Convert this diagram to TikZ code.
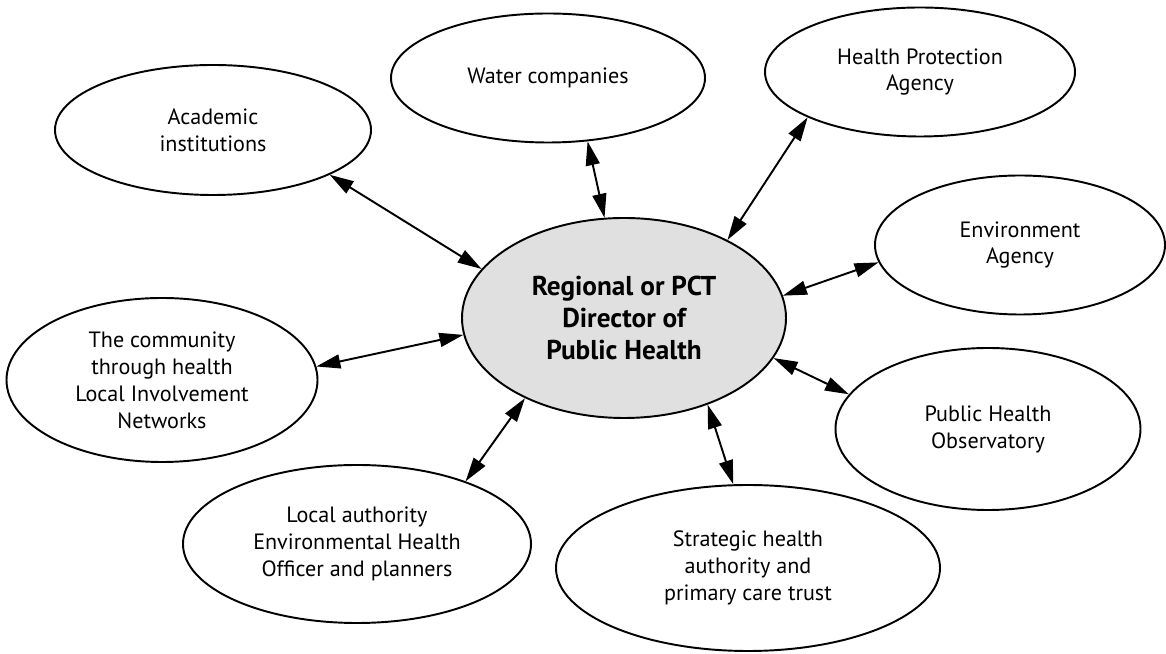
\documentclass[tikz,border=0pt]{standalone}
\usepackage{fontspec}
\setmainfont{PT Sans}
\usetikzlibrary{shapes.geometric,arrows.meta}

\begin{document}
\begin{tikzpicture}[line width=1.1pt]
			\tikzset{ente/.style={ellipse, draw, inner sep=0pt, align=center, font=\fontsize{12.6}{15.3}\selectfont},
				centrale/.style={ente, fill=black!12, font=\fontsize{15.5}{18.4}\selectfont\bfseries},
				freccia/.style={{Triangle[length=0.48cm,width=0.28cm]}-{Triangle[length=0.48cm,width=0.28cm]}}}
			\useasboundingbox (0,0) rectangle (23.32,13.08);
			
			% Nodo centrale (ombreggiato)
			\node[centrale, minimum width=6.48cm, minimum height=4cm] (DPH) at (12.48,6.72) {Regional or PCT\\Director of\\Public Health};
			
			% Nodi periferici
			\node[ente, minimum width=6.32cm, minimum height=2.60cm] (AI) at (4.26,10.48) {Academic\\institutions};
			\node[ente, minimum width=6.28cm, minimum height=2.58cm] (WC) at (10.96,11.52) {Water companies};
			\node[ente, minimum width=6.20cm, minimum height=2.58cm] (HPA) at (18.40,11.64) {Health Protection\\Agency};
			\node[ente, minimum width=5.80cm, minimum height=2.78cm] (EA) at (20.40,8.18) {Environment\\Agency};
			\node[ente, minimum width=6.10cm, minimum height=3.24cm] (PHO) at (19.76,4.50) {Public Health\\Observatory};
			\node[ente, minimum width=7.68cm, minimum height=3.32cm] (SHA) at (14.96,1.72) {Strategic health\\authority and\\primary care trust};
			\node[ente, minimum width=6.96cm, minimum height=3.16cm] (LA) at (7.14,2.20) {Local authority\\Environmental Health\\Officer and planners};
			\node[ente, minimum width=6.22cm, minimum height=3.28cm] (CL) at (3.24,5.48) {The community\\through health\\Local Involvement\\Networks};
			
			% Collegamenti con il nodo centrale
			\draw[freccia] (DPH.161) -- (AI.339);
			\draw[freccia] (DPH.101) -- (WC.302);
			\draw[freccia] (DPH.37) -- (HPA.202);
			\draw[freccia] (DPH.8) -- (EA.187);
			\draw[freccia] (DPH.345) -- (PHO.166);
			\draw[freccia] (DPH.314) -- (SHA.100);
			\draw[freccia] (DPH.219) -- (LA.30);
			\draw[freccia] (DPH.186) -- (CL.5);
		\end{tikzpicture}
\end{document}
